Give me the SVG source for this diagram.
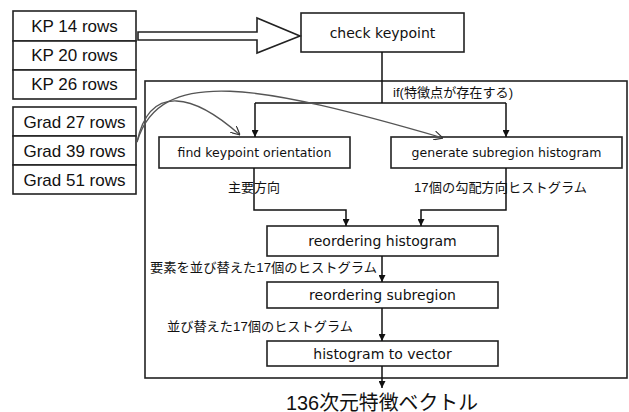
<svg xmlns="http://www.w3.org/2000/svg" width="629" height="412" viewBox="0 0 629 412">
  <style>
    .box { fill: #fff; stroke: #222; stroke-width: 1.6; }
    .frame { fill: none; stroke: #222; stroke-width: 1.6; }
    .wire { fill: none; stroke: #111; stroke-width: 1.5; }
    .curve { fill: none; stroke: #555; stroke-width: 1.3; }
    .row { font-family: "Liberation Sans", Arial, sans-serif; font-size: 17px; fill: #111; text-anchor: middle; }
    .proc { font-family: "DejaVu Sans", Verdana, sans-serif; fill: #111; text-anchor: middle; }
    .jp { font-family: "Liberation Sans", "Noto Sans CJK JP", sans-serif; font-size: 13px; fill: #111; }
    .result { font-family: "Liberation Sans", "Noto Sans CJK JP", sans-serif; font-size: 20px; fill: #111; text-anchor: middle; }
  </style>
  <defs>
    <marker id="tri" viewBox="0 0 10 10" refX="10" refY="5" markerWidth="7" markerHeight="7" markerUnits="userSpaceOnUse" orient="auto">
      <path d="M0,0 L10,5 L0,10 z" fill="#111"/>
    </marker>
    <marker id="vee" viewBox="0 0 10 10" refX="10" refY="5" markerWidth="9" markerHeight="9" markerUnits="userSpaceOnUse" orient="auto">
      <path d="M0,0 L10,5 L0,10" fill="none" stroke="#333" stroke-width="1.3"/>
    </marker>
  </defs>
  <rect width="629" height="412" fill="#fff"/>

  <!-- enclosing frame for the per-keypoint stage -->
  <rect class="frame" x="145" y="81" width="482" height="297"/>

  <!-- input tables -->
  <g id="kp-table">
    <rect class="box" x="13" y="11" width="123" height="30"/>
    <rect class="box" x="13" y="41" width="123" height="29"/>
    <rect class="box" x="13" y="70" width="123" height="29"/>
    <text class="row" x="74.5" y="32">KP 14 rows</text>
    <text class="row" x="74.5" y="61">KP 20 rows</text>
    <text class="row" x="74.5" y="90">KP 26 rows</text>
  </g>
  <g id="grad-table">
    <rect class="box" x="13" y="107" width="123" height="29"/>
    <rect class="box" x="13" y="136" width="123" height="29"/>
    <rect class="box" x="13" y="165" width="123" height="29"/>
    <text class="row" x="74.5" y="128">Grad 27 rows</text>
    <text class="row" x="74.5" y="157">Grad 39 rows</text>
    <text class="row" x="74.5" y="186">Grad 51 rows</text>
  </g>

  <!-- processing nodes -->
  <g id="check-keypoint">
    <rect class="box" x="301" y="13" width="163" height="39"/>
    <text class="proc" x="382.5" y="37.5" font-size="14">check keypoint</text>
  </g>
  <g id="find-orientation">
    <rect class="box" x="159" y="137" width="191" height="31"/>
    <text class="proc" x="254.5" y="157" font-size="12.5">find keypoint orientation</text>
  </g>
  <g id="subregion-histogram">
    <rect class="box" x="391" y="137" width="231" height="31"/>
    <text class="proc" x="506.5" y="157" font-size="12.5">generate subregion histogram</text>
  </g>
  <g id="reorder-histogram">
    <rect class="box" x="267" y="226" width="231" height="30"/>
    <text class="proc" x="382.5" y="246" font-size="14">reordering histogram</text>
  </g>
  <g id="reorder-subregion">
    <rect class="box" x="267" y="282" width="231" height="26"/>
    <text class="proc" x="382.5" y="300" font-size="14">reordering subregion</text>
  </g>
  <g id="to-vector">
    <rect class="box" x="267" y="341" width="231" height="25"/>
    <text class="proc" x="382.5" y="358.5" font-size="14">histogram to vector</text>
  </g>

  <!-- connectors -->
  <g id="connectors">
    <polygon points="138,32 257,32 257,18 300,36 257,53 257,40 138,40" fill="#fff" stroke="#222" stroke-width="1.6" stroke-linejoin="miter"/>
    <path class="wire" d="M382,52 V103"/>
    <path class="wire" d="M255,103 H506"/>
    <path class="wire" d="M255,103 V137" marker-end="url(#tri)"/>
    <path class="wire" d="M506,103 V137" marker-end="url(#tri)"/>
    <path class="wire" d="M254,168 V210 H346 V226" marker-end="url(#tri)"/>
    <path class="wire" d="M506,168 V210 H421 V226" marker-end="url(#tri)"/>
    <path class="wire" d="M382,256 V282" marker-end="url(#tri)"/>
    <path class="wire" d="M382,308 V341" marker-end="url(#tri)"/>
    <path class="wire" d="M382,366 V388" marker-end="url(#tri)"/>
    <path class="curve" d="M137,142 C150,82 195,95 240,135" marker-end="url(#vee)"/>
    <path class="curve" d="M137,142 C160,65 260,85 443,138" marker-end="url(#vee)"/>
  </g>

  <!-- edge labels -->
  <text class="jp" x="393" y="97" textLength="120" lengthAdjust="spacingAndGlyphs">if(特徴点が存在する)</text>
  <text class="jp" x="228" y="191.5" textLength="52" lengthAdjust="spacingAndGlyphs">主要方向</text>
  <text class="jp" x="414" y="191.5" textLength="173" lengthAdjust="spacingAndGlyphs">17個の勾配方向ヒストグラム</text>
  <text class="jp" x="150" y="271.5" textLength="227" lengthAdjust="spacingAndGlyphs">要素を並び替えた17個のヒストグラム</text>
  <text class="jp" x="167" y="330.5" textLength="186" lengthAdjust="spacingAndGlyphs">並び替えた17個のヒストグラム</text>
  <text class="result" x="382" y="409.5" textLength="192" lengthAdjust="spacingAndGlyphs">136次元特徴ベクトル</text>
</svg>
